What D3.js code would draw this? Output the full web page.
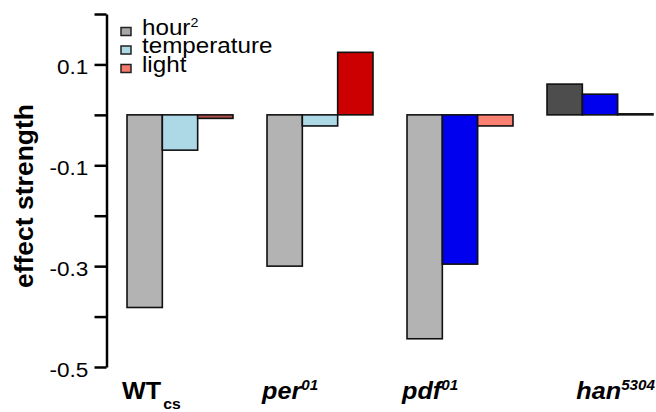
<!DOCTYPE html>
<html>
<head>
<meta charset="utf-8">
<script src="https://cdn.jsdelivr.net/npm/d3@7"></script>
<style>
  body { margin: 0; background: #fff; }
  text { font-family: "Liberation Sans", Arial, sans-serif; fill: #000; }
</style>
</head>
<body>
<script>
// data
var groups = ["WT", "per", "pdf", "han"];
var groupMain = ["WT", "per", "pdf", "han"];
var groupSub = ["cs", "", "", ""];
var groupSup = ["", "01", "01", "5304"];
var groupItalic = [false, true, true, true];
var series = ["hour2", "temperature", "light"];
var hour2 = [-0.382, -0.300, -0.444, 0.061];
var temperature = [-0.070, -0.022, -0.296, 0.041];
var light = [-0.007, 0.124, -0.022, 0.002];
var tickValues = [0.2, 0.1, 0, -0.1, -0.2, -0.3, -0.4, -0.5];
var labelledTicks = [0.1, -0.1, -0.3, -0.5];

// bar fills differ per group
var barColors = [
  ["#b3b3b3", "#add8e6", "#b0504c"],
  ["#b3b3b3", "#add8e6", "#cc0000"],
  ["#b3b3b3", "#0000ee", "#fa8072"],
  ["#4d4d4d", "#0000ee", "#fa8072"]
];
var legendColors = ["#a8a8a8", "#add8e6", "#f47a6e"];

var width = 656, height = 412;
var sx = 1.1; // text in the reference looks a bit wide

var svg = d3.select("body").append("svg")
            .attr("width", width)
            .attr("height", height);

var values = groups.map(function(g, i){ return [hour2[i], temperature[i], light[i]]; });

//scales
var xScale = d3.scaleBand()
               .domain(groups)
               .range([110, 670])
               .paddingInner(0.243)
               .paddingOuter(0.1215);

var subScale = d3.scaleBand()
                 .domain(series)
                 .range([0, xScale.bandwidth()]);

var yScale = d3.scaleLinear()
               .domain([-0.5, 0.2])
               .range([367, 14]);

//y axis
var yAxis = d3.axisLeft(yScale)
              .tickValues(tickValues)
              .tickSize(12)
              .tickSizeOuter(0)
              .tickPadding(4.5)
              .tickFormat(function(d){
                  return labelledTicks.some(function(v){ return Math.abs(v - d) < 1e-9; }) ? d3.format(".1f")(d) : "";
              });

var gAxis = svg.append("g")
               .attr("transform", "translate(106.5,0)")
               .call(yAxis);

gAxis.select(".domain").attr("stroke", "#000").attr("stroke-width", 2.5);
gAxis.selectAll(".tick line").attr("stroke", "#000").attr("stroke-width", 2.5);
gAxis.selectAll(".tick text")
     .attr("font-size", 20.5)
     .attr("font-family", "Liberation Sans, Arial, sans-serif")
     .attr("dy", "0.46em")
     .attr("transform", "scale(" + sx + ",1)")
     .text(function(d){ var t = d3.select(this).text(); return t.replace("\u2212", "-"); });

//bars
var gBars = svg.append("g").selectAll("g")
               .data(values)
               .enter()
               .append("g")
               .attr("transform", function(d, i){ return "translate(" + xScale(groups[i]) + ",0)"; });

gBars.selectAll("rect")
     .data(function(d, i){ return d.map(function(v, j){ return {v: v, s: series[j], c: barColors[i][j]}; }); })
     .enter()
     .append("rect")
     .attr("x", function(d){ return subScale(d.s); })
     .attr("width", subScale.bandwidth())
     .attr("y", function(d){ return yScale(Math.max(0, d.v)); })
     .attr("height", function(d){ return Math.abs(yScale(d.v) - yScale(0)); })
     .attr("fill", function(d){ return d.c; })
     .attr("stroke", "#111")
     .attr("stroke-width", 1.6);

//group labels
groups.forEach(function(g, i){
    var last = i == groups.length - 1;
    var x = last ? xScale(g) + xScale.bandwidth() + 2 : xScale(g) - 5;
    var t = svg.append("text")
               .attr("transform", "translate(" + x + ",399) scale(1.05,1)")
               .attr("text-anchor", last ? "end" : "start")
               .attr("font-size", 24)
               .attr("font-weight", "bold")
               .attr("font-style", groupItalic[i] ? "italic" : "normal");
    t.append("tspan").text(groupMain[i]);
    if (groupSub[i]) {
        t.append("tspan").attr("font-size", 15).attr("dx", 2).attr("dy", 10).text(groupSub[i]);
    }
    if (groupSup[i]) {
        t.append("tspan").attr("font-size", 14.5).attr("dy", -9).text(groupSup[i]);
    }
});

//y label
svg.append("text")
   .attr("transform", "translate(33,196) rotate(-90)")
   .attr("text-anchor", "middle")
   .attr("font-size", 26.5)
   .attr("font-weight", "bold")
   .text("effect strength");

//legend
var legendRows = [0, 1, 2];
var gLegend = svg.append("g").attr("transform", "translate(121,0)");
legendRows.forEach(function(r){
    var base = 34.5 + r * 18.5;
    gLegend.append("rect")
           .attr("x", 0)
           .attr("y", base - 7)
           .attr("width", 10)
           .attr("height", 8)
           .attr("fill", legendColors[r])
           .attr("stroke", "#222")
           .attr("stroke-width", 1.5);
    var t = gLegend.append("text")
                   .attr("transform", "translate(21," + base + ") scale(" + sx + ",1)")
                   .attr("font-size", 22);
    if (r == 0) {
        t.append("tspan").text("hour");
        t.append("tspan").attr("font-size", 13).attr("dy", -8).text("2");
    } else {
        t.text(series[r]);
    }
});
</script>
</body>
</html>
